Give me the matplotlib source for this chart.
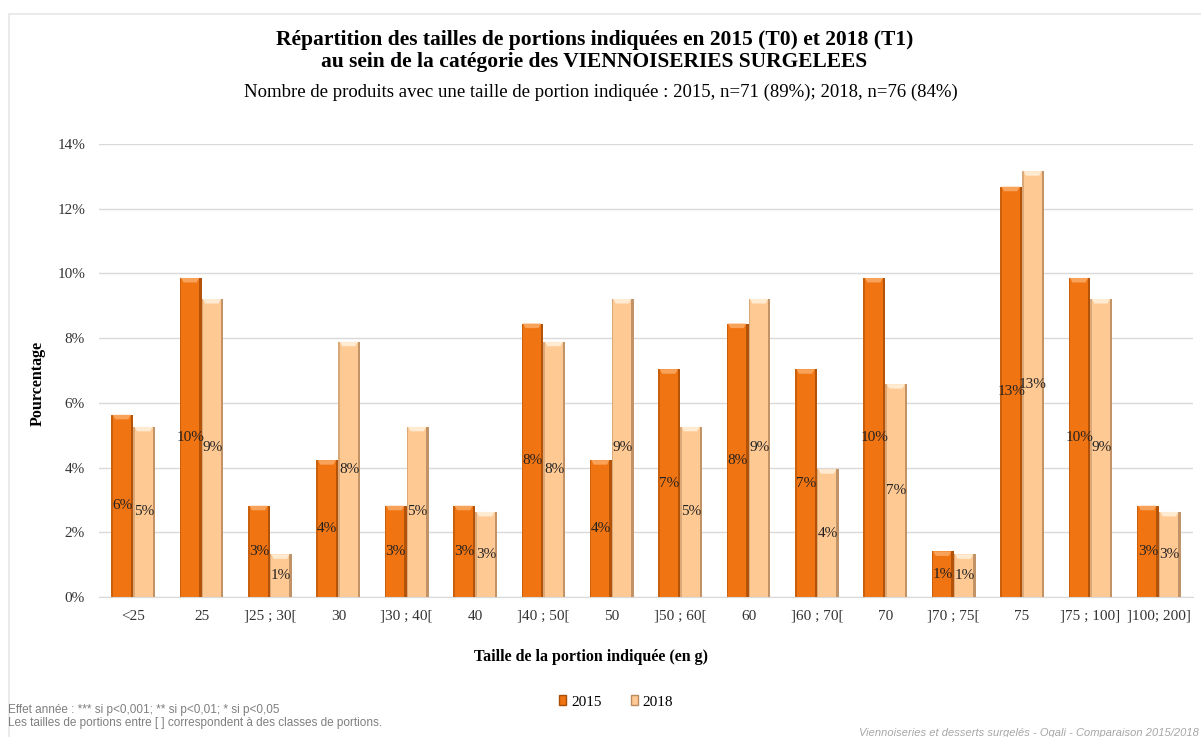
import matplotlib
matplotlib.use("Agg")
from matplotlib import pyplot as plt
from matplotlib import patches as mpatches
import numpy as np

# data: % of products per portion size (2015 n=71, 2018 n=76)
categories = ["<25", "25", "]25 ; 30[", "30", "]30 ; 40[", "40", "]40 ; 50[", "50",
              "]50 ; 60[", "60", "]60 ; 70[", "70", "]70 ; 75[", "75", "]75 ; 100]", "]100; 200]"]
pct_2015 = [5.63, 9.86, 2.82, 4.23, 2.82, 2.82, 8.45, 4.23,
            7.04, 8.45, 7.04, 9.86, 1.41, 12.68, 9.86, 2.82]
pct_2018 = [5.26, 9.21, 1.32, 7.89, 5.26, 2.63, 7.89, 9.21,
            5.26, 9.21, 3.95, 6.58, 1.32, 13.16, 9.21, 2.63]
yticks = [0, 2, 4, 6, 8, 10, 12, 14]

SERIF = ["Liberation Serif", "DejaVu Serif"]
SANS = ["Liberation Sans", "DejaVu Sans"]

STYLE = {
    "2015": {"face": "#F07412", "dark": "#A84E08", "light": "#F9A35A"},
    "2018": {"face": "#FFC994", "dark": "#B88A5E", "light": "#FFEBD2"},
}


def bevel_bar(ax, x, h, w, style):
    """Plain bar with darker side strips and a lighter top cap (Excel bevel look)."""
    ax.add_patch(mpatches.Rectangle((x - w / 2, 0), w, h, facecolor=style["face"],
                                    edgecolor="none", zorder=2))
    side = w * 0.11
    ax.add_patch(mpatches.Rectangle((x + w / 2 - side, 0), side, h,
                                    facecolor=style["dark"], edgecolor="none", zorder=3, alpha=0.85))
    ax.add_patch(mpatches.Rectangle((x - w / 2, 0), side * 0.6, h,
                                    facecolor=style["dark"], edgecolor="none", zorder=3, alpha=0.5))
    cap = min(0.14, h * 0.5)
    ax.add_patch(mpatches.Polygon([(x - w / 2 + side * 0.6, h), (x + w / 2 - side, h),
                                   (x + w / 2 - side * 2, h - cap), (x - w / 2 + side * 1.6, h - cap)],
                                  closed=True, facecolor=style["light"], edgecolor="none", zorder=3))


fig = plt.figure(figsize=(12.01, 7.37), dpi=100)
fig.patch.set_facecolor("white")

# light frame round the chart
fig.add_artist(mpatches.Rectangle((9 / 1201, -0.01), 1.02, 1 - 14 / 737 + 0.01,
                                  transform=fig.transFigure, facecolor="none",
                                  edgecolor="#E6E6E6", linewidth=1.2))

ax = fig.add_axes([99 / 1201, 1 - 597 / 737, (1193 - 99) / 1201, (597 - 144) / 737])
x = np.arange(len(categories))
w = 0.32
for xi, v in zip(x, pct_2015):
    bevel_bar(ax, xi - w / 2, v, w, STYLE["2015"])
    ax.text(xi - w / 2, v / 2, "%d%%" % round(v), ha="center", va="center",
            fontsize=11, family=SERIF, color="#222222", zorder=5)
for xi, v in zip(x, pct_2018):
    bevel_bar(ax, xi + w / 2, v, w, STYLE["2018"])
    ax.text(xi + w / 2, v / 2, "%d%%" % round(v), ha="center", va="center",
            fontsize=11, family=SERIF, color="#222222", zorder=5)

ax.set_xlim(-0.5, len(categories) - 0.5)
ax.set_ylim(0, 14)
ax.set_yticks(yticks)
ax.set_yticklabels(["%d%%" % t for t in yticks], family=SERIF, fontsize=11)
ax.set_xticks(x)
ax.set_xticklabels(categories, family=SERIF, fontsize=11)
ax.tick_params(axis="both", length=0, colors="#333333")
ax.tick_params(axis="y", pad=10)
ax.tick_params(axis="x", pad=9)
ax.grid(axis="y", color="#D9D9D9", linewidth=1)
ax.set_axisbelow(True)
for s in ["top", "right", "left"]:
    ax.spines[s].set_visible(False)
ax.spines["bottom"].set_color("#D9D9D9")

fig.text(0.495, 1 - 40 / 737, "Répartition des tailles de portions indiquées en 2015 (T0) et 2018 (T1)",
         ha="center", va="center", family=SERIF, fontsize=15.5, fontweight="bold")
fig.text(0.495, 1 - 62 / 737, "au sein de la catégorie des VIENNOISERIES SURGELEES",
         ha="center", va="center", family=SERIF, fontsize=15.5, fontweight="bold")
fig.text(0.5, 1 - 92 / 737,
         "Nombre de produits avec une taille de portion indiquée : 2015, n=71 (89%); 2018, n=76 (84%)",
         ha="center", va="center", family=SERIF, fontsize=13.5)

fig.text(38 / 1201, 1 - 383 / 737, "Pourcentage", rotation=90, ha="center", va="center",
         family=SERIF, fontsize=11.5, fontweight="bold")
fig.text(591 / 1201, 1 - 657 / 737, "Taille de la portion indiquée (en g)", ha="center",
         va="center", family=SERIF, fontsize=11.5, fontweight="bold")

handles = [mpatches.Patch(facecolor=STYLE[k]["face"], edgecolor=STYLE[k]["dark"], label=k)
           for k in ("2015", "2018")]
fig.legend(handles=handles, loc="center", bbox_to_anchor=(616 / 1201, 1 - 702 / 737), ncol=2,
           frameon=False, prop={"family": SERIF, "size": 11}, handlelength=0.5,
           handleheight=0.6, handletextpad=0.3, columnspacing=1.9)

fig.text(8 / 1201, 1 - 710 / 737, "Effet année : *** si p<0,001; ** si p<0,01; * si p<0,05",
         ha="left", va="center", family=SANS, fontsize=8.5, color="#7F7F7F")
fig.text(8 / 1201, 1 - 723 / 737,
         "Les tailles de portions entre [ ] correspondent à des classes de portions.",
         ha="left", va="center", family=SANS, fontsize=8.5, color="#7F7F7F")
fig.text(1199 / 1201, 1 - 733 / 737,
         "Viennoiseries et desserts surgelés - Oqali - Comparaison 2015/2018",
         ha="right", va="center", family=SANS, fontsize=8, color="#A6A6A6", style="italic")

fig.savefig("out.png", dpi=100)
